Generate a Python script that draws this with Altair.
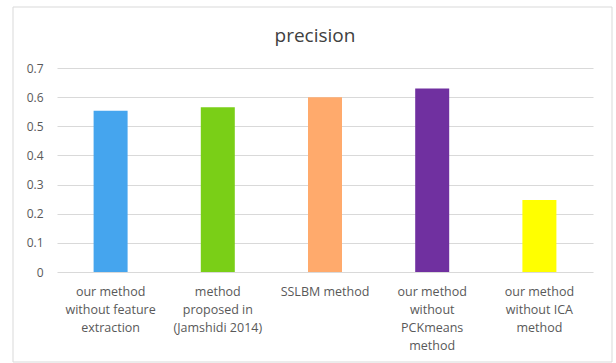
import altair as alt
import pandas as pd

# Precision of each method
methods = [
    "our method|without feature|extraction",
    "method|proposed in|(Jamshidi 2014)",
    "SSLBM method",
    "our method|without|PCKmeans|method",
    "our method|without ICA|method",
]
precision = [0.553, 0.565, 0.600, 0.630, 0.247]
colors = ["#45A5EE", "#7ACF17", "#FFAA6C", "#7030A0", "#FFFF00"]
chart_title = "precision"

df = pd.DataFrame({"method": methods, "precision": precision, "color": colors})

W, H = 536, 204
FONT = "Open Sans"

bars = alt.Chart(df).mark_bar(size=34).encode(
    x=alt.X(
        "method:N",
        sort=methods,
        title=None,
        scale=alt.Scale(paddingInner=0.69, paddingOuter=0.345),
        axis=alt.Axis(
            labelExpr="split(datum.label, '|')",
            labelAngle=0,
            labelFont=FONT,
            labelFontSize=12.5,
            labelColor="#595959",
            labelLineHeight=18,
            labelPadding=13,
            domain=False,
            ticks=False,
            grid=False,
            labelLimit=200,
        ),
    ),
    y=alt.Y(
        "precision:Q",
        title=None,
        scale=alt.Scale(domain=[0, 0.7], nice=False),
        axis=alt.Axis(
            values=[0, 0.1, 0.2, 0.3, 0.4, 0.5, 0.6, 0.7],
            labelExpr="datum.value == 0 ? '0' : format(datum.value, '.1f')",
            labelFont=FONT,
            labelFontSize=12,
            labelColor="#595959",
            labelPadding=14,
            domain=False,
            ticks=False,
            grid=True,
            gridColor="#D9D9D9",
            gridWidth=1,
        ),
    ),
    color=alt.Color("color:N", scale=None, legend=None),
)

one_row = alt.Chart(df).transform_filter(alt.datum.method == methods[0])

# Light frame around the whole chart
frame = one_row.mark_rect(
    fill=None, stroke="#D9D9D9", strokeWidth=1, clip=False
).encode(
    x=alt.value(-44), x2=alt.value(555), y=alt.value(-61), y2=alt.value(294)
)

# Chart heading, centred over the frame
heading = one_row.mark_text(
    font=FONT, fontSize=19, color="#404040", align="center", baseline="middle"
).encode(
    x=alt.value(258), y=alt.value(-32), text=alt.value(chart_title)
)

chart = (
    alt.layer(frame, bars, heading)
    .properties(
        width=W,
        height=H,
        padding={"left": 57, "top": 68, "right": 23, "bottom": 91},
        autosize=alt.AutoSizeParams(type="none"),
        background="white",
    )
    .configure_view(stroke=None)
)

chart.save("out.html", embed_options={"renderer": "svg", "actions": False})
